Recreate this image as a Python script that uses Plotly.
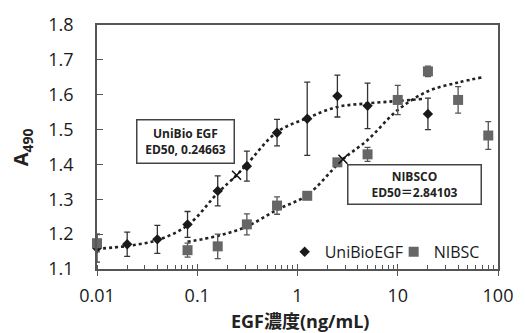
import math
import plotly.graph_objects as go

# ---- data ----
uni_x = [0.01, 0.02, 0.04, 0.08, 0.16, 0.3125, 0.625, 1.25, 2.5, 5, 20]
uni_y = [1.160, 1.171, 1.185, 1.228, 1.324, 1.395, 1.491, 1.531, 1.596, 1.568, 1.545]
uni_err = [0.04, 0.035, 0.04, 0.037, 0.043, 0.043, 0.038, 0.105, 0.06, 0.065, 0.045]

nib_x = [0.01, 0.08, 0.16, 0.3125, 0.625, 1.25, 2.5, 5, 10, 20, 40, 80]
nib_y = [1.174, 1.154, 1.165, 1.228, 1.282, 1.310, 1.406, 1.429, 1.585, 1.667, 1.585, 1.483]
nib_err = [0.025, 0.02, 0.035, 0.03, 0.025, 0.01, 0.01, 0.02, 0.042, 0.015, 0.038, 0.04]

# fitted curves
uni_fit_x = [0.01, 0.02, 0.04, 0.08, 0.16, 0.24663, 0.3125, 0.625, 1.25, 2.5, 5, 10, 18]
uni_fit_y = [1.158, 1.166, 1.183, 1.225, 1.318, 1.369, 1.400, 1.493, 1.533, 1.565, 1.575, 1.582, 1.588]
nib_fit_x = [0.08, 0.16, 0.3125, 0.625, 1.25, 2.84103, 5, 10, 20, 40, 70]
nib_fit_y = [1.178, 1.195, 1.222, 1.270, 1.312, 1.415, 1.470, 1.556, 1.610, 1.635, 1.650]

ed50_x = [0.24663, 2.84103]
ed50_y = [1.369, 1.415]

x_ticks = [0.01, 0.1, 1, 10, 100]
x_tick_labels = ["0.01", "0.1", "1", "10", "100"]
y_ticks = [1.1, 1.2, 1.3, 1.4, 1.5, 1.6, 1.7, 1.8]
y_tick_labels = ["1.1", "1.2", "1.3", "1.4", "1.5", "1.6", "1.7", "1.8"]

FONT = "'Open Sans', 'Noto Sans CJK JP', sans-serif"
AX = "#555555"

fig = go.Figure()

fig.add_trace(go.Scatter(
    x=uni_fit_x, y=uni_fit_y, mode="lines", line=dict(color="#222", width=2.6, dash="dot", shape="spline"),
    showlegend=False, hoverinfo="skip"))
fig.add_trace(go.Scatter(
    x=nib_fit_x, y=nib_fit_y, mode="lines", line=dict(color="#222", width=2.6, dash="dot", shape="spline"),
    showlegend=False, hoverinfo="skip"))

fig.add_trace(go.Scatter(
    x=uni_x, y=uni_y, mode="markers", name="UniBioEGF",
    marker=dict(symbol="diamond", size=8, color="#1a1a1a"),
    error_y=dict(type="data", array=uni_err, color="#333", thickness=1.3, width=3),
    cliponaxis=False))
fig.add_trace(go.Scatter(
    x=nib_x, y=nib_y, mode="markers", name="NIBSC",
    marker=dict(symbol="square", size=10, color="#666666"),
    error_y=dict(type="data", array=nib_err, color="#555", thickness=1.3, width=3),
    cliponaxis=False))

fig.add_trace(go.Scatter(
    x=ed50_x, y=ed50_y, mode="markers",
    marker=dict(symbol="x-thin", size=9, line=dict(color="#111", width=1.6)),
    showlegend=False, hoverinfo="skip"))

# overlay axis to draw major x ticks inside as well
fig.add_trace(go.Scatter(x=[0.01, 100], y=[1.1, 1.1], xaxis="x2", mode="markers",
                         marker=dict(opacity=0), showlegend=False, hoverinfo="skip"))

fig.update_layout(
    width=525, height=333,
    margin=dict(l=97, r=20, t=21, b=64),
    paper_bgcolor="white", plot_bgcolor="white",
    font=dict(family=FONT, color="#222"),
    xaxis=dict(
        type="log", range=[-2, 2], tickvals=x_ticks, ticktext=x_tick_labels,
        ticks="outside", ticklen=5, tickcolor=AX, tickwidth=1.3,
        showline=True, linecolor=AX, linewidth=1.6, mirror=True,
        showgrid=False, zeroline=False,
        tickfont=dict(size=18, family=FONT, color="#1a1a1a"), ticklabelstandoff=5,
        minor=dict(ticks="inside", ticklen=4, tickcolor=AX, tickwidth=1.2, dtick="D1", showgrid=False),
    ),
    xaxis2=dict(
        type="log", range=[-2, 2], overlaying="x", matches="x", side="bottom",
        tickvals=x_ticks, ticks="inside", ticklen=5, tickcolor=AX, tickwidth=1.3,
        showticklabels=False, showgrid=False, zeroline=False, showline=False,
    ),
    yaxis=dict(
        range=[1.1, 1.8], tickvals=y_ticks, ticktext=y_tick_labels,
        ticks="inside", ticklen=6, tickcolor=AX, tickwidth=1.3,
        showline=True, linecolor=AX, linewidth=1.6, mirror=True,
        showgrid=False, zeroline=False,
        tickfont=dict(size=18, family=FONT, color="#1a1a1a"), ticklabelstandoff=18,
    ),
    legend=dict(
        orientation="h", x=0.468, xanchor="left", y=0.07, yanchor="middle",
        bgcolor="rgba(0,0,0,0)", font=dict(size=16, family=FONT, color="#1a1a1a"),
        itemwidth=30, tracegroupgap=0, entrywidth=64, entrywidthmode="pixels",
    ),
    showlegend=True,
)

annotations = [
    dict(xref="x", yref="y", x=math.log10(0.0762), y=1.4655,
         text="<b>UniBio EGF<br>ED50, 0.24663</b>", showarrow=False,
         font=dict(size=12, family=FONT, color="#222"),
         bordercolor="#444", borderwidth=1.5, borderpad=2, bgcolor="white",
         width=92, height=38, align="center"),
    dict(xref="x", yref="y", x=1.165, y=1.342,
         text="<b>NIBSCO<br>ED50＝2.84103</b>", showarrow=False,
         font=dict(size=12, family=FONT, color="#222"),
         bordercolor="#444", borderwidth=1.5, borderpad=2, bgcolor="white",
         width=128, height=34, align="center"),
    dict(xref="paper", yref="paper", x=(304 - 97) / 408, y=(269 - 322) / 248,
         text="<b>EGF濃度(ng/mL)</b>", showarrow=False,
         font=dict(size=18, family=FONT, color="#222"), yanchor="middle"),
    dict(xref="paper", yref="paper", x=(20 - 97) / 408, y=(269 - 145) / 248,
         text="<b>A<sub>490</sub></b>", showarrow=False, textangle=-90,
         font=dict(size=20, family=FONT, color="#222"), xanchor="center", yanchor="middle"),
]
fig.update_layout(annotations=annotations)

fig.write_html("out.html", config={"displayModeBar": False},
               post_script="document.body.style.margin='0';document.body.style.padding='0';")
